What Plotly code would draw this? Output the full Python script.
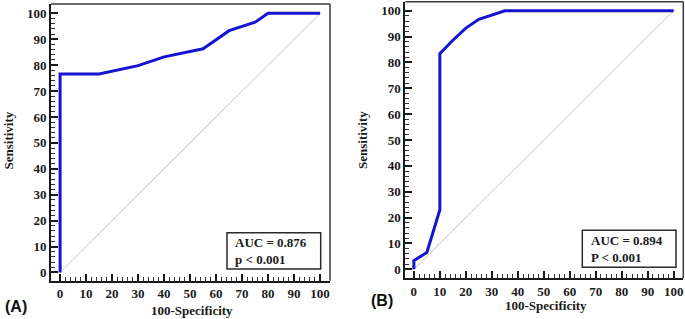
import plotly.graph_objects as go

# Panel A ROC data
fpr_a = [0, 0, 15, 30, 40, 55, 65, 75, 80, 100]
tpr_a = [0, 76.6, 76.6, 79.8, 83.2, 86.3, 93.3, 96.6, 100, 100]
# Panel B ROC data
fpr_b = [0, 0, 5, 10, 10, 15, 20, 25, 35, 100]
tpr_b = [0, 3.3, 6.5, 23.0, 83.4, 88.6, 93.3, 96.7, 100, 100]
diag = [0, 100]

auc_a = ["AUC = 0.876", "p < 0.001"]
auc_b = ["AUC = 0.894", "P < 0.001"]
panel_labels = ["(A)", "(B)"]
x_title = "100-Specificity"
y_title = "Sensitivity"

major_ticks = list(range(0, 101, 10))
minor_ticks = [v for v in range(2, 100, 2) if v % 10 != 0]

W, H = 685, 319
BLUE = "#1414d2"
SERIF = "Liberation Serif, Times New Roman, serif"

fig = go.Figure()
for i, (fx, ty) in enumerate([(fpr_a, tpr_a), (fpr_b, tpr_b)]):
    xa = "x" if i == 0 else "x2"
    ya = "y" if i == 0 else "y2"
    fig.add_trace(go.Scatter(x=diag, y=diag, mode="lines", xaxis=xa, yaxis=ya,
                             line=dict(color="#c4c4c4", width=1), showlegend=False,
                             hoverinfo="skip"))
    fig.add_trace(go.Scatter(x=fx, y=ty, mode="lines", xaxis=xa, yaxis=ya,
                             line=dict(color=BLUE, width=3), showlegend=False))

def axis(domain, anchor, rng):
    return dict(
        domain=domain, anchor=anchor, range=rng, automargin=False,
        showgrid=False, zeroline=False,
        showline=True, linecolor="#1a1a1a", linewidth=2,
        ticks="inside", ticklen=7, tickwidth=1.5, tickcolor="#1a1a1a",
        tickmode="array", tickvals=major_ticks, ticktext=[str(v) for v in major_ticks],
        minor=dict(ticks="inside", ticklen=4, tickwidth=1, tickcolor="#333",
                   tickmode="array", tickvals=minor_ticks),
        tickfont=dict(family=SERIF, size=13, color="#1a1a1a", weight="bold"),
    )

# pixel -> paper
def px(x):
    return x / W
def py(y):
    return 1 - y / H

xa_dom = [px(51), px(330)]
ya_dom = [py(280.7), py(4)]
xb_dom = [px(405.3), px(683.3)]
yb_dom = [py(278), py(1.7)]

fig.update_layout(
    template="none",
    width=W, height=H, margin=dict(l=0, r=0, t=0, b=0, pad=0),
    paper_bgcolor="white", plot_bgcolor="white",
    xaxis=axis(xa_dom, "y", [-3.5, 103.8]),
    yaxis=axis(ya_dom, "x", [-3.2, 103.6]),
    xaxis2=axis(xb_dom, "y2", [-3.3, 103.7]),
    yaxis2=axis(yb_dom, "x2", [-3.4, 103.5]),
)

shapes = []
annotations = []
for xd, yd in [(xa_dom, ya_dom), (xb_dom, yb_dom)]:
    # top / right frame lines
    shapes.append(dict(type="line", xref="paper", yref="paper",
                       x0=xd[0], x1=xd[1], y0=yd[1], y1=yd[1],
                       line=dict(color="#3a3a3a", width=1.5)))
    shapes.append(dict(type="line", xref="paper", yref="paper",
                       x0=xd[1], x1=xd[1], y0=yd[0], y1=yd[1],
                       line=dict(color="#3a3a3a", width=1.5)))

# AUC boxes
shapes.append(dict(type="rect", xref="paper", yref="paper",
                   x0=px(227), x1=px(320.7), y0=py(269), y1=py(232.7),
                   line=dict(color="#2a2a2a", width=1.5), fillcolor="white"))
shapes.append(dict(type="rect", xref="paper", yref="paper",
                   x0=px(582.3), x1=px(676), y0=py(267.3), y1=py(230.3),
                   line=dict(color="#2a2a2a", width=1.5), fillcolor="white"))

bold13 = dict(family=SERIF, size=13, color="#1a1a1a", weight="bold")

def ann(x, y, text, font, xanchor="center", angle=0, align="center"):
    annotations.append(dict(xref="paper", yref="paper", x=px(x), y=py(y),
                            xanchor=xanchor, yanchor="middle", align=align,
                            text=text, showarrow=False, textangle=angle, font=font))

ann(233, 251, "<br>".join(auc_a), bold13, xanchor="left", align="left")
ann(589, 249, "<br>".join(auc_b), bold13, xanchor="left", align="left")
# axis titles
ann(192, 310, x_title, bold13)
ann(546, 305, x_title, bold13)
ann(7.5, 141, y_title, bold13, angle=-90)
ann(362, 140, y_title, bold13, angle=-90)
# panel labels
lab_font = dict(family="Liberation Sans, Arial, sans-serif", size=16, color="#111", weight="bold")
ann(15.5, 306.5, panel_labels[0], lab_font)
ann(382, 300, panel_labels[1], lab_font)

fig.update_layout(shapes=shapes, annotations=annotations)
fig.write_html("out.html", config={"displayModeBar": False},
               post_script="document.body.style.margin='0';document.body.style.padding='0';")
